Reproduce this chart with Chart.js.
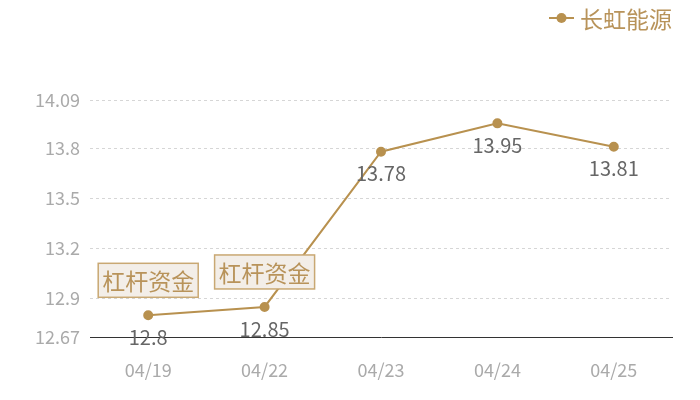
<!DOCTYPE html>
<html><head><meta charset="utf-8">
<script src="https://cdn.jsdelivr.net/npm/chart.js@4"></script>
<style>html,body{margin:0;padding:0;background:#fff;}#wrap{width:700px;height:400px;position:relative;}</style>
</head><body><div id="wrap"><canvas id="c" width="700" height="400"></canvas></div>
<script>
const categories = ["04/19","04/22","04/23","04/24","04/25"];
const seriesName = "长虹能源";
const values = [12.8, 12.85, 13.78, 13.95, 13.81];
const yTicks = [12.67, 12.9, 13.2, 13.5, 13.8, 14.09];
const annotationIdx = [0, 1];
const annotationText = "杠杆资金";

const FONT = '"Noto Sans CJK SC", "Open Sans", sans-serif';
const GOLD = '#b8914f';

const extras = {
  id: 'extras',
  afterDatasetsDraw(chart) {
    const ctx = chart.ctx;
    const meta = chart.getDatasetMeta(0);
    ctx.save();
    // data labels
    ctx.font = '20px ' + FONT;
    ctx.fillStyle = '#666';
    ctx.textAlign = 'center';
    ctx.textBaseline = 'middle';
    meta.data.forEach((pt, i) => {
      ctx.fillText(String(values[i]), pt.x, pt.y + 22);
    });
    // annotation boxes
    ctx.font = '23px ' + FONT;
    annotationIdx.forEach(i => {
      const pt = meta.data[i];
      const w = 100, h = 34;
      const x = pt.x - 50, y = pt.y - 52;
      ctx.fillStyle = '#f3eee8';
      ctx.fillRect(x, y, w, h);
      ctx.strokeStyle = '#c9a873';
      ctx.lineWidth = 1.5;
      ctx.strokeRect(x, y, w, h);
      ctx.fillStyle = '#b8935a';
      ctx.fillText(annotationText, pt.x, y + h / 2 + 1);
    });
    // legend
    const ly = 18;
    ctx.strokeStyle = GOLD;
    ctx.lineWidth = 2;
    ctx.beginPath(); ctx.moveTo(549, ly); ctx.lineTo(574, ly); ctx.stroke();
    ctx.fillStyle = GOLD;
    ctx.beginPath(); ctx.arc(561.5, ly, 5, 0, Math.PI * 2); ctx.fill();
    ctx.font = '23px ' + FONT;
    ctx.textAlign = 'left';
    ctx.fillStyle = '#b8935a';
    ctx.fillText(seriesName, 580, ly + 1);
    ctx.restore();
  }
};

new Chart(document.getElementById('c'), {
  type: 'line',
  data: {
    labels: categories,
    datasets: [{
      label: seriesName,
      data: values,
      borderColor: GOLD,
      backgroundColor: GOLD,
      borderWidth: 2,
      pointRadius: 4,
      pointHoverRadius: 4,
      pointBackgroundColor: GOLD,
      pointBorderColor: GOLD,
      tension: 0
    }]
  },
  options: {
    responsive: false,
    animation: false,
    devicePixelRatio: 1,
    layout: { padding: { left: 0, right: 28, top: 100, bottom: 0 } },
    plugins: {
      legend: { display: false },
      tooltip: { enabled: false }
    },
    scales: {
      x: {
        offset: true,
        afterFit(scale) { scale.height = 63; },
        grid: { display: false, drawTicks: false },
        border: { display: true, color: '#333', width: 1 },
        ticks: { color: '#aaa', font: { family: FONT, size: 18 }, padding: 22 }
      },
      y: {
        min: 12.67,
        max: 14.09,
        afterBuildTicks(scale) { scale.ticks = yTicks.map(v => ({ value: v })); },
        afterFit(scale) { scale.width = 90; },
        grid: {
          color: ctx => ctx.tick && ctx.tick.value === 12.67 ? 'rgba(0,0,0,0)' : '#d6d6d6',
          lineWidth: 1,
          drawTicks: false
        },
        border: { display: false, dash: [3, 3] },
        ticks: { color: '#aaa', font: { family: FONT, size: 18 }, padding: 10, callback: v => String(v) }
      }
    }
  },
  plugins: [extras]
});
</script>
</body></html>
